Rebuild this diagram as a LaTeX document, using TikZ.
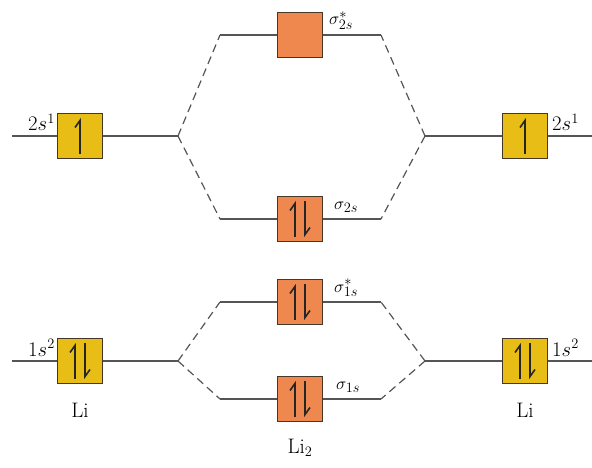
\documentclass[tikz,border=0pt]{standalone}
\usetikzlibrary{arrows.meta}
\definecolor{aoyel}{RGB}{232,190,22}
\definecolor{moorg}{RGB}{238,136,78}
\definecolor{lvl}{RGB}{85,85,85}
\definecolor{bxedge}{RGB}{70,55,40}
\begin{document}
\begin{tikzpicture}[x=1pt,y=-1pt,
  lev/.style={draw=lvl,line width=1.1pt},
  dsh/.style={draw=lvl,line width=1.2pt,dash pattern=on 8pt off 5pt},
  aobox/.style={draw=bxedge,line width=1pt,fill=aoyel,minimum size=45pt,inner sep=0pt},
  mobox/.style={draw=bxedge,line width=1pt,fill=moorg,minimum size=45pt,inner sep=0pt},
  harp/.style={line width=1.6pt,draw=black!85,-{Straight Barb[left,length=7pt,width=10pt]}},
  lab/.style={font=\fontsize{21}{23}\selectfont,inner sep=0pt},
  slab/.style={font=\fontsize{19}{21}\selectfont,inner sep=0pt}]
\useasboundingbox (0,0) rectangle (592,468);
% atomic orbital boxes
\node[aobox] (L2) at (80,136) {};
\node[aobox] (R2) at (525,136) {};
\node[aobox] (L1) at (80,361) {};
\node[aobox] (R1) at (525,361) {};
% molecular orbital boxes
\node[mobox] (S2s) at (300,35) {};
\node[mobox] (S2) at (300,219) {};
\node[mobox] (S1s) at (300,302) {};
\node[mobox] (S1) at (300,399) {};
% level end points
\coordinate (L2a) at (12,136);  \coordinate (L2v) at (178,136);
\coordinate (R2a) at (592,136); \coordinate (R2v) at (425,136);
\coordinate (L1a) at (12,361);  \coordinate (L1v) at (178,361);
\coordinate (R1a) at (592,361); \coordinate (R1v) at (425,361);
\coordinate (S2sa) at (220,35);  \coordinate (S2sb) at (381,35);
\coordinate (S2a) at (220,219);  \coordinate (S2b) at (381,219);
\coordinate (S1sa) at (220,302); \coordinate (S1sb) at (381,302);
\coordinate (S1a) at (220,399);  \coordinate (S1b) at (381,399);
% levels
\draw[lev] (L2a) -- (L2.west) (L2.east) -- (L2v);
\draw[lev] (R2a) -- (R2.east) (R2.west) -- (R2v);
\draw[lev] (L1a) -- (L1.west) (L1.east) -- (L1v);
\draw[lev] (R1a) -- (R1.east) (R1.west) -- (R1v);
\foreach \n in {S2s,S2,S1s,S1}{
  \draw[lev] (\n a) -- (\n.west) (\n.east) -- (\n b);
}
% correlation dashes
\draw[dsh] (L2v) -- (S2sa); \draw[dsh] (L2v) -- (S2a);
\draw[dsh] (R2v) -- (S2sb); \draw[dsh] (R2v) -- (S2b);
\draw[dsh] (L1v) -- (S1sa); \draw[dsh] (L1v) -- (S1a);
\draw[dsh] (R1v) -- (S1sb); \draw[dsh] (R1v) -- (S1b);
% electrons
\draw[harp] ([yshift=-18pt]L2.center) -- ([yshift=18pt]L2.center);
\draw[harp] ([yshift=-18pt]R2.center) -- ([yshift=18pt]R2.center);
\foreach \n in {L1,R1,S2,S1s,S1}{
  \draw[harp] ([xshift=-5pt,yshift=-18pt]\n.center) -- ([xshift=-5pt,yshift=18pt]\n.center);
  \draw[harp] ([xshift=5pt,yshift=18pt]\n.center) -- ([xshift=5pt,yshift=-18pt]\n.center);
}
% labels
\node[lab,anchor=base east] (tL2) at (55,131) {$2s^{1}$};
\node[lab,anchor=base west] (tR2) at (552,131) {$2s^{1}$};
\node[lab,anchor=base east] (tL1) at (55,356) {$1s^{2}$};
\node[lab,anchor=base west] (tR1) at (552,356) {$1s^{2}$};
\node[slab,anchor=base west] (tS2s) at (329,25) {$\sigma^{*}_{2s}$};
\node[slab,anchor=base west] (tS2) at (334,209) {$\sigma_{2s}$};
\node[slab,anchor=base west] (tS1s) at (334,292) {$\sigma^{*}_{1s}$};
\node[slab,anchor=base west] (tS1) at (336,389) {$\sigma_{1s}$};
\node[lab,anchor=base] (liL) at (80,417) {Li};
\node[lab,anchor=base] (liR) at (525,417) {Li};
\node[lab,anchor=base] (li2) at (300,453) {Li$_2$};
\end{tikzpicture}
\end{document}
